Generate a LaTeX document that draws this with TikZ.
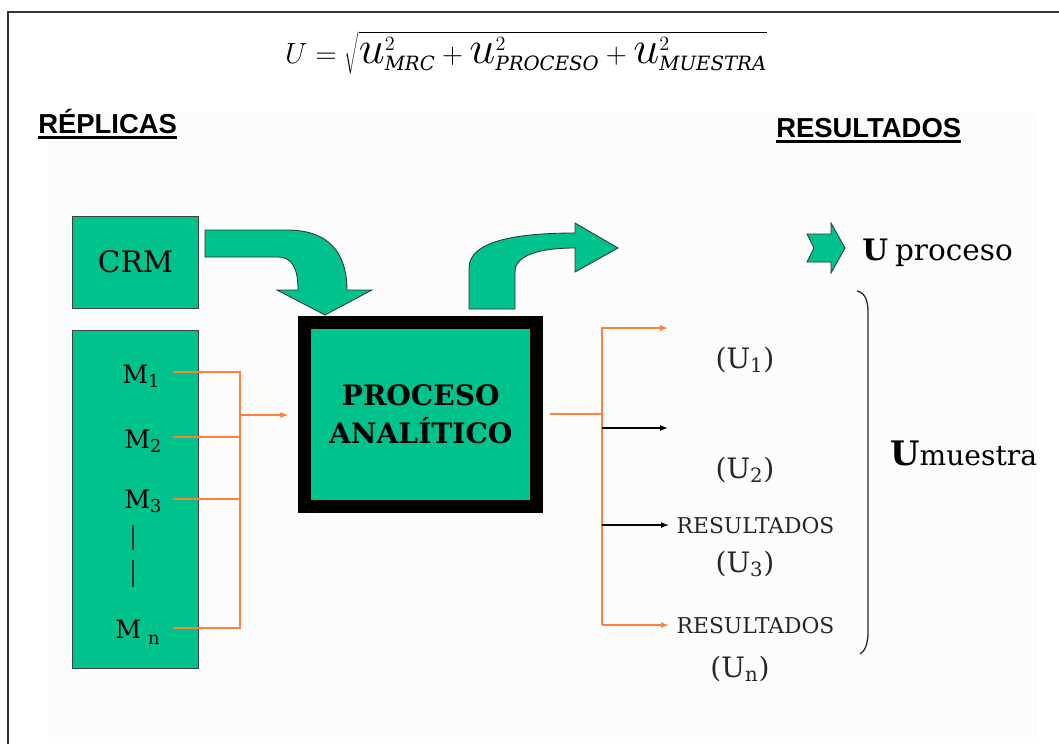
\documentclass[tikz,border=0pt]{standalone}
\usepackage{fontspec}
\usepackage{graphicx}
\setmainfont{DejaVu Serif}
\newfontfamily\headfont{Liberation Sans}
\usetikzlibrary{arrows.meta}
\definecolor{boxgreen}{RGB}{0,194,140}
\definecolor{feedorange}{RGB}{255,128,56}
\newcommand{\bigu}{\scalebox{1.6}{$u$}}

\begin{document}
\begin{tikzpicture}[x=0.025cm,y=-0.025cm,
  greenbox/.style={draw=black!75,fill=boxgreen,line width=0.7pt},
  bigarrow/.style={draw=black!80,fill=boxgreen,line width=0.6pt},
  feed/.style={draw=feedorange,line width=1.1pt},
  tip/.style={-{Latex[length=2mm,width=1.5mm]}},
  heading/.style={anchor=base west,inner sep=0pt,font=\headfont\bfseries\fontsize{19.5}{22}\selectfont},
  mlabel/.style={anchor=base west,inner sep=0pt,font=\fontsize{18}{20}\selectfont},
  ulabel/.style={anchor=base,inner sep=0pt,text=black!85,font=\fontsize{20}{22}\selectfont},
  rtext/.style={anchor=base west,inner sep=1pt,text=black!85,font=\fontsize{15.5}{18}\selectfont}]

  \useasboundingbox (0,0) rectangle (1059,744);
  \fill[black!1] (48,113) rectangle (1038,737);
  \draw[black!80,line width=1.4pt] (8,744) -- (8,12) -- (1059,12);

  % formula and headings
  \node[anchor=base] (formula) at (526,63) {\fontsize{20}{24}\selectfont
    $U=\sqrt{\bigu^{2}_{\mathit{MRC}}+\bigu^{2}_{\mathit{PROCESO}}+\bigu^{2}_{\mathit{MUESTRA}}}$};
  \node[heading] (replicas) at (38,133) {RÉPLICAS};
  \node[heading] (resultados) at (776,137) {RESULTADOS};
  \draw[line width=1.6pt] ([yshift=-3.2pt]replicas.base west) -- ([yshift=-3.2pt]replicas.base east);
  \draw[line width=1.6pt] ([yshift=-3.2pt]resultados.base west) -- ([yshift=-3.2pt]resultados.base east);

  % left boxes
  \node[greenbox,minimum width=3.125cm,minimum height=2.3cm,font=\fontsize{21}{24}\selectfont] (crm) at (135.5,262) {CRM};
  \node[greenbox,minimum width=3.125cm,minimum height=8.425cm] (mbox) at (135.5,499.5) {};
  \node[mlabel] (m1) at (122,383) {M\textsubscript{1}};
  \node[mlabel] (m2) at (124,448) {M\textsubscript{2}};
  \node[mlabel] (m3) at (124,508) {M\textsubscript{3}};
  \node[mlabel] (mn) at (115,638) {M\hspace{5pt}\raisebox{-2pt}{\textsubscript{n}}};
  \draw[black!80,line width=1.3pt] (133,525) -- (133,550) (133,560) -- (133,587);

  % process box
  \node[draw=black,fill=boxgreen,line width=9.2pt,minimum width=5.79cm,minimum height=4.59cm,
    align=center,font=\bfseries\fontsize{20}{27}\selectfont] (proc) at (420.75,414.25) {PROCESO\\ANALÍTICO};

  % block arrows
  \draw[bigarrow] (205,230) -- (287,230) .. controls (335,230) and (347,260) .. (347,290)
    -- (372,290) -- (325,315) -- (277,290) -- (298,290)
    .. controls (298,268) and (292,257) .. (278,257) -- (205,257) -- cycle;
  \draw[bigarrow] (469,309) -- (469,268) .. controls (469,240) and (520,233) .. (575,233)
    -- (575,223) -- (618,248) -- (575,272) -- (575,248)
    .. controls (540,248) and (515,255) .. (515,272) -- (515,309) -- cycle;
  \draw[bigarrow] (807,234) -- (831,234) -- (831,223) -- (845,248) -- (831,273)
    -- (831,262) -- (807,262) -- (814,248) -- cycle;

  % results
  \node[anchor=base west,inner sep=0pt] (uproc) at (862,260)
    {\fontsize{21}{24}\selectfont\bfseries U\hspace{5pt}\mdseries proceso};
  \node[anchor=base west,inner sep=0pt] (umues) at (890,465)
    {\fontsize{24}{28}\selectfont\bfseries U\fontsize{20}{24}\selectfont\mdseries muestra};
  \node[ulabel] (u1) at (745,368) {(U\textsubscript{1})};
  \node[ulabel] (u2) at (745,478) {(U\textsubscript{2})};
  \node[ulabel] (u3) at (745,572) {(U\textsubscript{3})};
  \node[ulabel] (un) at (740,677) {(U\textsubscript{n})};
  \node[rtext] (res3) at (675,533) {RESULTADOS};
  \node[rtext] (resn) at (675,633) {RESULTADOS};
  \draw[black!85,line width=0.9pt] (857,291) .. controls (865,293) and (868,300) .. (868,312)
    -- (868,632) .. controls (868,644) and (865,651) .. (860,654);

  % connectors
  \coordinate (s1) at (173,372);
  \coordinate (s2) at (173,437);
  \coordinate (s3) at (173,499);
  \coordinate (sn) at (173,628);
  \coordinate (bl) at (240,415);
  \coordinate (br) at (602,414);
  \coordinate (t1) at (668,328);
  \coordinate (t2) at (668,428);
  \draw[feed] (s1) -- (s1 -| bl) -- (sn -| bl) -- (sn);
  \draw[feed] (s2) -- (s2 -| bl);
  \draw[feed] (s3) -- (s3 -| bl);
  \draw[feed,tip,shorten >=2.5mm] (bl) -- (bl -| proc.west);
  \draw[feed,shorten <=4.6pt] (proc.east) -- (proc.east -| br);
  \draw[feed,tip] (resn.west -| br) -- (t1 -| br) -- (t1);
  \draw[black,line width=0.9pt,tip] (t2 -| br) -- (t2);
  \draw[black,line width=0.9pt,tip,shorten >=1.5mm] (res3.west -| br) -- (res3.west);
  \draw[feed,tip,shorten >=1.5mm] (resn.west -| br) -- (resn.west);
\end{tikzpicture}
\end{document}
